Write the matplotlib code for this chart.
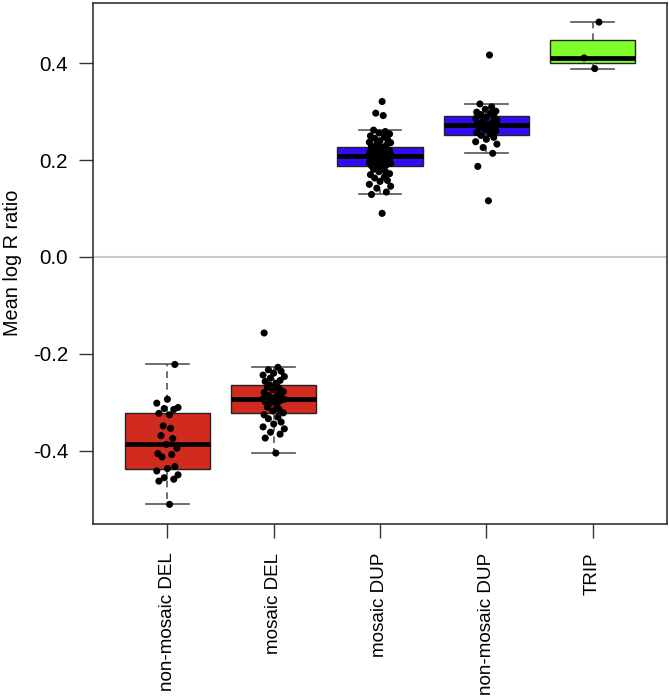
import numpy as np
import matplotlib
matplotlib.use("Agg")
import matplotlib.pyplot as plt

plt.rcParams['font.family'] = ['Liberation Sans', 'DejaVu Sans']

# groups, in plotting order
groups = ["non-mosaic DEL", "mosaic DEL", "mosaic DUP", "non-mosaic DUP", "TRIP"]
box_colors = ["#D12A1F", "#D12A1F", "#300CF2", "#2E0DF0", "#80FF2A"]

# mean log R ratio per sample
nonmosaic_del = [-0.511, -0.463, -0.459, -0.456, -0.450, -0.442, -0.437, -0.433,
                 -0.413, -0.408, -0.406, -0.395, -0.387, -0.375, -0.369, -0.354,
                 -0.349, -0.326, -0.323, -0.315, -0.313, -0.311, -0.302, -0.294,
                 -0.222]
mosaic_del = [-0.405, -0.374, -0.366, -0.362, -0.355, -0.351, -0.345, -0.341,
              -0.334, -0.331, -0.326, -0.322, -0.318, -0.315, -0.310, -0.308,
              -0.303, -0.301, -0.299, -0.297, -0.296, -0.294, -0.293, -0.291,
              -0.289, -0.286, -0.284, -0.280, -0.278, -0.274, -0.271, -0.269,
              -0.266, -0.264, -0.261, -0.257, -0.255, -0.250, -0.247, -0.244,
              -0.240, -0.236, -0.233, -0.228, -0.157]
mosaic_dup = [0.090, 0.129, 0.134, 0.142, 0.146, 0.150, 0.156, 0.158, 0.163,
              0.165, 0.170, 0.172, 0.176, 0.177, 0.181, 0.184, 0.185, 0.187,
              0.188, 0.190, 0.191, 0.193, 0.195, 0.196, 0.198, 0.199, 0.200,
              0.201, 0.203, 0.204, 0.205, 0.206, 0.207, 0.208, 0.209, 0.210,
              0.211, 0.212, 0.213, 0.214, 0.215, 0.216, 0.218, 0.218, 0.219,
              0.220, 0.221, 0.222, 0.223, 0.225, 0.226, 0.227, 0.229, 0.231,
              0.233, 0.236, 0.237, 0.240, 0.243, 0.245, 0.248, 0.250, 0.254,
              0.256, 0.259, 0.262, 0.292, 0.297, 0.321]
nonmosaic_dup = [0.116, 0.187, 0.214, 0.226, 0.233, 0.238, 0.243, 0.247, 0.251,
                 0.254, 0.257, 0.260, 0.263, 0.265, 0.267, 0.270, 0.272, 0.274,
                 0.276, 0.278, 0.281, 0.283, 0.286, 0.289, 0.292, 0.294, 0.297,
                 0.299, 0.301, 0.305, 0.310, 0.316, 0.417]
trip = [0.389, 0.411, 0.485]

values = [nonmosaic_del, mosaic_del, mosaic_dup, nonmosaic_dup, trip]

# fixed horizontal jitter pattern for the dots
jitter = [0.02, -0.08, 0.06, -0.03, 0.10, -0.10, 0.00, 0.07, -0.05, 0.04,
          -0.09, 0.09, -0.01, 0.05, -0.06, 0.03, -0.04]


def r_boxstats(x):
    """Tukey hinges + whiskers the way R's boxplot() does it"""
    x = np.sort(np.asarray(x, dtype=float))
    n = len(x)
    n4 = np.floor((n + 3) / 2) / 2
    d = np.array([1, n4, (n + 1) / 2, n + 1 - n4, n]) - 1
    fn = 0.5 * (x[np.floor(d).astype(int)] + x[np.ceil(d).astype(int)])
    iqr = fn[3] - fn[1]
    lo = x[x >= fn[1] - 1.5 * iqr].min()
    hi = x[x <= fn[3] + 1.5 * iqr].max()
    return dict(med=fn[2], q1=fn[1], q3=fn[3], whislo=lo, whishi=hi, fliers=[])


fig = plt.figure(figsize=(6.69, 6.98), dpi=100)
ax = fig.add_axes([93 / 669, 1 - 523.5 / 698, 574 / 669, 521 / 698])

ax.axhline(0, color="#C8C8C8", lw=1.5, zorder=0)

stats = [r_boxstats(v) for v in values]
bp = ax.bxp(stats, positions=range(1, 6), widths=0.8, capwidths=0.4,
            patch_artist=True, showfliers=False,
            boxprops=dict(edgecolor="#222222", linewidth=1.0),
            medianprops=dict(color="black", linewidth=3.4, solid_capstyle="butt"),
            whiskerprops=dict(color="#555555", linewidth=1.2, linestyle=(0, (4, 3))),
            capprops=dict(color="#555555", linewidth=1.2))
for patch, c in zip(bp["boxes"], box_colors):
    patch.set_facecolor(c)

for i, v in enumerate(values):
    xs = [i + 1 + jitter[k % len(jitter)] for k in range(len(v))]
    ax.scatter(xs, v, s=26, color="black", edgecolors="none", zorder=5)

ax.set_xlim(0.3, 5.7)
ax.set_ylim(-0.5505, 0.5255)
ax.set_yticks([-0.4, -0.2, 0.0, 0.2, 0.4])
ax.set_yticklabels(["-0.4", "-0.2", "0.0", "0.2", "0.4"])
ax.set_xticks(range(1, 6))
ax.set_xticklabels(groups, rotation=90, va="top", ha="center")

ax.tick_params(axis="y", length=10, width=1.0, color="#333333", pad=8,
               labelsize=14.8)
# slightly smaller than the reference so the long labels are not clipped
ax.tick_params(axis="x", length=10, width=1.0, color="#333333", pad=11,
               labelsize=13.6)
for s in ax.spines.values():
    s.set_color("#333333")
    s.set_linewidth(1.2)

ax.set_ylabel("Mean log R ratio", fontsize=14.3)
# label anchor is its right edge once rotated
ax.yaxis.set_label_coords(-(93 - 22) / 574, 0.5)

fig.savefig("out.png", dpi=100)
